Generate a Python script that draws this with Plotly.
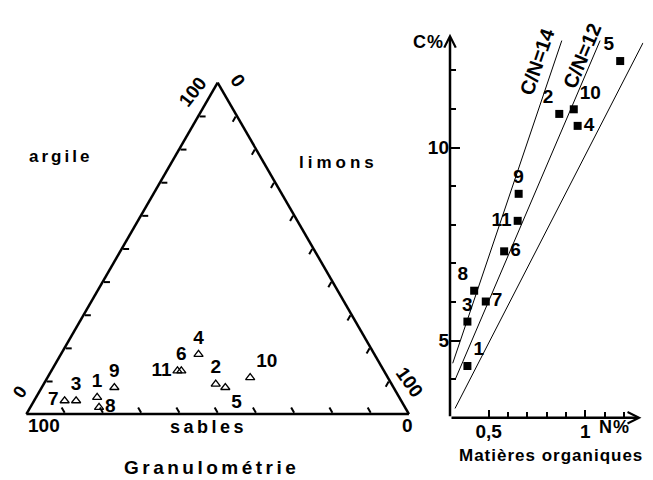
import plotly.graph_objects as go

# the page body has an 8px margin, so the figure is drawn 8px smaller
# and every layout position below is given in the reference's pixel frame
OFF = 8
W, H = 653 - OFF, 480 - OFF

# --- Granulométrie (ternary), samples 1..11 ---
samples = ["1", "2", "3", "4", "5", "6", "7", "8", "9", "10", "11"]
argile = [5, 9, 4, 18, 8, 13, 4, 2, 8, 11, 13]
limons = [16, 45, 11, 36, 48, 34, 8, 18, 19, 53, 33]
sables = [79, 46, 85, 46, 44, 53, 88, 80, 73, 36, 54]
tern_textpos = ["top center", "top center", "top center", "top center", "bottom right",
                "top center", "middle left", "middle right", "top center", "top right", "middle left"]

# --- Matières organiques: N% vs C% ---
azote = [0.39, 0.865, 0.39, 0.96, 1.18, 0.58, 0.485, 0.425, 0.655, 0.94, 0.65]
carbone = [4.34, 10.87, 5.49, 10.56, 12.24, 7.31, 6.01, 6.29, 8.80, 10.99, 8.10]
mo_textpos = ["top right", "top left", "top center", "middle right", "top left",
              "middle right", "middle right", "top left", "top center", "top right", "middle left"]

# C/N reference lines (end points)
cn14_n = [0.314, 0.878]
cn14_c = [4.41, 12.77]
cn12_n = [0.326, 1.076]
cn12_c = [3.98, 12.77]
cn10_n = [0.326, 1.298]
cn10_c = [3.24, 12.71]

FONT = "Liberation Sans"
BLACK = "black"


def fx(x):
    return (x - OFF) / W


def fy(y):
    return 1 - (y - OFF) / H


def spaced(txt, sp):
    return '<span style="letter-spacing:%spx">%s</span>' % (sp, txt)


fig = go.Figure()

fig.add_trace(go.Scatterternary(
    a=argile, b=sables, c=limons, mode="markers+text", text=samples,
    textposition=tern_textpos, cliponaxis=False,
    textfont=dict(family=FONT, size=19, color=BLACK, weight="bold"),
    marker=dict(symbol="triangle-up-open", size=8, color=BLACK, line=dict(width=1.3)),
    showlegend=False, hoverinfo="skip"))

for n, c in [(cn14_n, cn14_c), (cn12_n, cn12_c), (cn10_n, cn10_c)]:
    fig.add_trace(go.Scatter(x=n, y=c, mode="lines", line=dict(color=BLACK, width=1),
                             showlegend=False, hoverinfo="skip"))

fig.add_trace(go.Scatter(
    x=azote, y=carbone, mode="markers+text", text=samples, textposition=mo_textpos,
    cliponaxis=False,
    textfont=dict(family=FONT, size=19, color=BLACK, weight="bold"),
    marker=dict(symbol="square", size=8, color=BLACK),
    showlegend=False, hoverinfo="skip"))

tern_axis = dict(showticklabels=False, ticks="inside", ticklen=6, tickwidth=1.5,
                 tickcolor=BLACK, dtick=10, tick0=0, showline=True, linewidth=2.5,
                 linecolor=BLACK, showgrid=False, title=dict(text=""))

fig.update_layout(
    width=W, height=H, margin=dict(l=0, r=0, t=0, b=0),
    paper_bgcolor="white", plot_bgcolor="white",
    font=dict(family=FONT, color=BLACK),
    ternary=dict(domain=dict(x=[fx(26), fx(409.3)], y=[fy(414), fy(82.7)]),
                 bgcolor="white", sum=100,
                 aaxis=tern_axis, baxis=tern_axis, caxis=tern_axis),
    xaxis=dict(domain=[fx(450), fx(643.4)], range=[0.3, 1.3], showline=False,
               zeroline=False, showgrid=False, ticks="inside", ticklen=8, tickwidth=1.5,
               tickcolor=BLACK, tickvals=[0.5, 1.0], ticktext=["0,5", "1"],
               tickfont=dict(family=FONT, size=19, weight="bold"),
               minor=dict(tickvals=[0.6, 0.7, 0.8, 0.9, 1.1, 1.2], ticks="inside",
                          ticklen=6, tickwidth=1.5, tickcolor=BLACK)),
    yaxis=dict(domain=[fy(417.7), fy(31.7)], range=[3, 13], showline=False,
               zeroline=False, showgrid=False, ticks="inside", ticklen=10, tickwidth=1.5,
               tickcolor=BLACK, tickvals=[5, 10], ticktext=["5", "10"],
               tickfont=dict(family=FONT, size=19, weight="bold"),
               minor=dict(tickvals=[4, 6, 7, 8, 9, 11, 12], ticks="inside",
                          ticklen=6, tickwidth=1.5, tickcolor=BLACK)),
)

# axis arrows of the right-hand plot
for (hx, hy) in [(1.29, 3), (0.3, 12.95)]:
    fig.add_annotation(x=hx, y=hy, ax=0.3, ay=3, xref="x", yref="y", axref="x", ayref="y",
                       text="", showarrow=True, arrowhead=5, arrowsize=0.9,
                       arrowwidth=2.5, arrowcolor=BLACK, standoff=0)

labels = [
    # text, x, y, size, angle, letter spacing
    ("argile", 60, 157, 17, 0, 3),
    ("limons", 338, 162, 17, 0, 4),
    ("sables", 208, 427, 18, 0, 3.5),
    ("Granulométrie", 211, 467, 19, 0, 3.5),
    ("Matières organiques", 551, 455, 17, 0, 1),
    ("100", 193, 92, 19, -52, 0),
    ("0", 238, 80, 19, 55, 0),
    ("0", 20, 392, 18, -55, 0),
    ("100", 44, 425, 19, 0, 0),
    ("0", 407, 425, 19, 0, 0),
    ("100", 410, 382, 19, 55, 0),
    ("C%", 428, 42, 18, 0, 1),
    ("N%", 614, 427, 18, 0, 1),
    ("C/N=14", 537, 62, 20, -71, 0),
    ("C/N=12", 582, 56, 20, -67, 0),
]
for txt, x, y, size, ang, sp in labels:
    fig.add_annotation(x=fx(x), y=fy(y), xref="paper", yref="paper", showarrow=False,
                       text=spaced(txt, sp) if sp else txt, textangle=ang,
                       xanchor="center", yanchor="middle",
                       font=dict(family=FONT, size=size, color=BLACK, weight="bold"))

fig.write_html("out.html")
